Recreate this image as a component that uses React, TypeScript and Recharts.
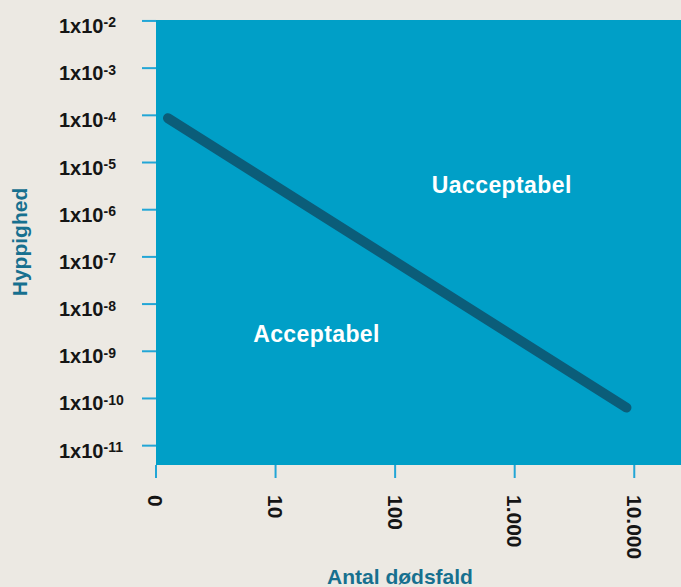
import React from 'react';
import { LineChart, Line, XAxis, YAxis, CartesianGrid, Label, ReferenceDot } from 'recharts';

// Data
const xTicks = [1, 10, 100, 1000, 10000];
const xTickLabels = ['0', '10', '100', '1.000', '10.000'];
const yTicks = [1e-2, 1e-3, 1e-4, 1e-5, 1e-6, 1e-7, 1e-8, 1e-9, 1e-10, 1e-11];
const yExponents = ['-2', '-3', '-4', '-5', '-6', '-7', '-8', '-9', '-10', '-11'];
const lineX = [1.26, 8600];
const lineY = [8.7e-5, 6.4e-11];
const regionLabels = ['Uacceptabel', 'Acceptabel'];
const regionX = [780, 22];
const regionY = [3.4e-6, 2.3e-9];

const data = lineX.map((x, i) => ({ x, y: lineY[i] }));

const BG = '#ece9e3';
const PLOT = '#009fc7';
const LINE = '#0b5d79';
const TICK = '#22a6d6';
const TITLE = '#17708f';
const FONT = '"Liberation Sans", Arial, sans-serif';

const YTick = (props: any) => {
  const { y, payload } = props;
  const idx = yTicks.findIndex((t) => Math.abs(Math.log10(t) - Math.log10(payload.value)) < 1e-6);
  return (
    <text x={59} y={y + 12} fontSize={20} fontWeight={700} fill="#151515" fontFamily={FONT} textAnchor="start">
      1x10
      <tspan dy={-5.5} fontSize={14}>{yExponents[idx]}</tspan>
    </text>
  );
};

const XTick = (props: any) => {
  const { x, payload } = props;
  const idx = xTicks.findIndex((t) => Math.abs(Math.log10(t) - Math.log10(payload.value)) < 1e-6);
  return (
    <text
      transform={`translate(${x}, 495) rotate(90)`}
      x={0}
      y={0}
      dy="0.36em"
      fontSize={21}
      fontWeight={700}
      fill="#151515"
      fontFamily={FONT}
      textAnchor="start"
    >
      {xTickLabels[idx]}
    </text>
  );
};

const regionLabel = (text: string) => (props: any) => {
  const { viewBox } = props;
  const cx = viewBox.x + (viewBox.width || 0) / 2;
  const cy = viewBox.y + (viewBox.height || 0) / 2;
  return (
    <text x={cx} y={cy} dy="0.36em" textAnchor="middle" fontSize={23} letterSpacing={0.4} fontWeight={700} fill="#ffffff" fontFamily={FONT}>
      {text}
    </text>
  );
};

export default function App() {
  return (
    <div style={{ position: 'fixed', left: 0, top: 0, width: 681, height: 587, background: BG, overflow: 'hidden' }}>
      <LineChart width={681} height={587} data={data} margin={{ top: 20, right: 0, bottom: 0, left: 0 }}>
        <CartesianGrid fill={PLOT} horizontal={false} vertical={false} stroke="none" />
        <XAxis
          dataKey="x"
          type="number"
          scale="log"
          domain={[1, 24600]}
          allowDataOverflow
          ticks={xTicks}
          tick={<XTick />}
          tickSize={13}
          tickLine={{ stroke: TICK, strokeWidth: 2 }}
          axisLine={false}
          height={122}
          interval={0}
        >
          <Label
            content={() => (
              <text x={400} y={584} textAnchor="middle" fontSize={21} fontWeight={700} fill={TITLE} fontFamily={FONT}>
                Antal dødsfald
              </text>
            )}
          />
        </XAxis>
        <YAxis
          dataKey="y"
          type="number"
          scale="log"
          domain={[Math.pow(10, -11.41), Math.pow(10, -1.98)]}
          allowDataOverflow
          ticks={yTicks}
          tick={<YTick />}
          tickSize={14}
          tickLine={{ stroke: TICK, strokeWidth: 2 }}
          axisLine={false}
          width={156}
          interval={0}
        >
          <Label
            content={() => (
              <text
                transform="translate(27, 242) rotate(-90)"
                textAnchor="middle"
                fontSize={21}
                fontWeight={700}
                fill={TITLE}
                fontFamily={FONT}
              >
                Hyppighed
              </text>
            )}
          />
        </YAxis>
        <Line
          dataKey="y"
          stroke={LINE}
          strokeWidth={10}
          strokeLinecap="round"
          dot={false}
          activeDot={false}
          isAnimationActive={false}
          type="linear"
        />
        {regionLabels.map((t, i) => (
          <ReferenceDot
            key={t}
            x={regionX[i]}
            y={regionY[i]}
            r={0}
            fill="none"
            stroke="none"
            label={{ content: regionLabel(t) }}
          />
        ))}
      </LineChart>
    </div>
  );
}
